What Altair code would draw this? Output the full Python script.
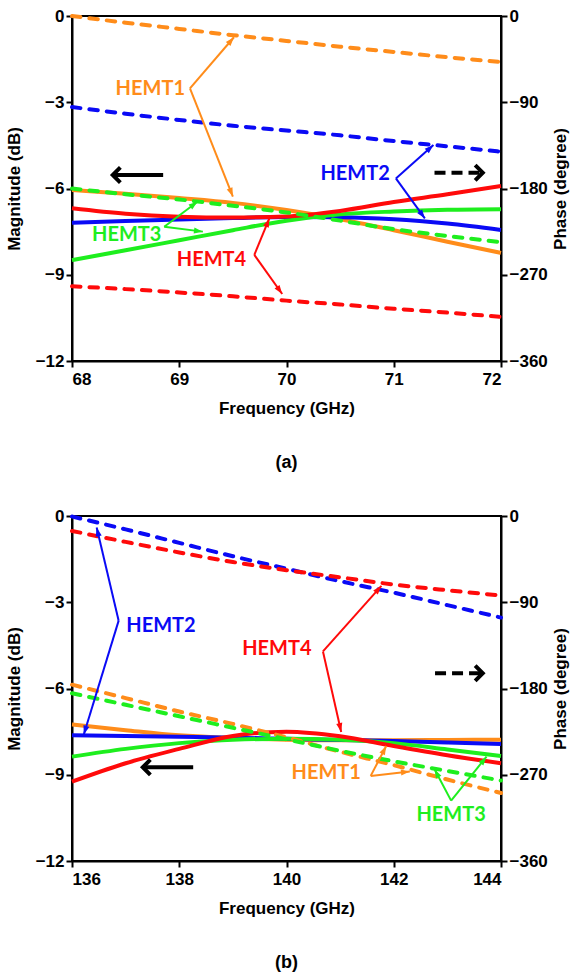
import math
import altair as alt
import pandas as pd

SERIES = ["HEMT1", "HEMT2", "HEMT3", "HEMT4"]
LINE_COLORS = ["#FF8C1A", "#0A0AF5", "#1EEE1E", "#FF0A0A"]
LABEL_COLORS = ["#F79646", "#1414E6", "#1EE61E", "#F51414"]

# ---------------- panel (a) ----------------
freq_a = [68, 68.5, 69, 69.5, 70, 70.5, 71, 71.5, 72]
mag_a = {
    "HEMT1": [-6.05, -6.18, -6.33, -6.5, -6.75, -7.07, -7.45, -7.85, -8.24],
    "HEMT2": [-7.19, -7.13, -7.08, -7.03, -6.99, -7.0, -7.07, -7.22, -7.44],
    "HEMT3": [-8.49, -8.15, -7.8, -7.45, -7.12, -6.9, -6.8, -6.74, -6.72],
    "HEMT4": [-6.69, -6.88, -6.98, -7.01, -6.97, -6.78, -6.47, -6.2, -5.91],
}
phase_a = {
    "HEMT1": [0, -7, -13.5, -20, -26, -32, -37.5, -43, -48],
    "HEMT2": [-95, -102, -108.5, -114.5, -119.5, -124.5, -130.5, -136, -141.6],
    "HEMT3": [-180, -186, -191.5, -198, -205, -213.5, -222.5, -229.5, -236],
    "HEMT4": [-282, -285, -288.5, -292.5, -297, -301, -305.5, -309.5, -314],
}
ticks_x_a = [68, 69, 70, 71, 72]
# annotations (frequency, magnitude-axis units): label, vertex, two tips
ann_a_label = ["HEMT1", "HEMT2", "HEMT3", "HEMT4"]
ann_a_text = [(68.73, -2.55), (70.64, -5.5), (68.51, -7.62), (69.3, -8.49)]
ann_a_vertex = [(69.10, -2.52), (71.02, -5.65), (68.86, -7.33), (69.70, -8.31)]
ann_a_tip1 = [(69.51, -0.74), (71.37, -4.49), (69.17, -6.46), (69.84, -7.04)]
ann_a_tip2 = [(69.50, -6.28), (71.29, -7.04), (69.22, -7.50), (69.96, -9.67)]
arrow_a_solid = [(68.85, -5.53), (68.38, -5.53)]
arrow_a_dashed = [(71.38, -5.45), (71.83, -5.45)]

# ---------------- panel (b) ----------------
freq_b = [136, 137, 138, 139, 140, 141, 142, 143, 144]
mag_b = {
    "HEMT1": [-7.25, -7.45, -7.63, -7.72, -7.78, -7.8, -7.8, -7.79, -7.78],
    "HEMT2": [-7.63, -7.65, -7.68, -7.71, -7.75, -7.79, -7.83, -7.88, -7.93],
    "HEMT3": [-8.37, -8.1, -7.9, -7.78, -7.75, -7.78, -7.9, -8.12, -8.35],
    "HEMT4": [-9.24, -8.6, -8.1, -7.65, -7.5, -7.66, -8.0, -8.32, -8.6],
}
phase_b = {
    "HEMT1": [-176, -190, -204, -217, -231, -246, -260, -275, -289],
    "HEMT2": [-0.5, -14, -28, -42, -55, -68, -80, -93, -106],
    "HEMT3": [-185, -197, -209, -221, -233, -245, -256, -266, -276],
    "HEMT4": [-15.6, -27, -38, -48, -56.5, -64, -71.5, -77.5, -83],
}
ticks_x_b = [136, 138, 140, 142, 144]
ann_b_label = ["HEMT2", "HEMT4", "HEMT1", "HEMT3"]
ann_b_text = [(137.66, -3.81), (139.82, -4.62), (140.74, -8.95), (143.07, -10.4)]
ann_b_vertex = [(136.87, -3.64), (140.68, -4.71), (141.57, -9.04), (143.07, -9.9)]
ann_b_tip1 = [(136.46, -0.40), (141.77, -2.43), (141.86, -8.0), (142.76, -8.81)]
ann_b_tip2 = [(136.22, -7.60), (141.02, -7.51), (142.30, -8.89), (143.73, -8.37)]
arrow_b_solid = [(138.26, -8.74), (137.32, -8.74)]
arrow_b_dashed = [(142.77, -5.47), (143.66, -5.47)]

mag_ticks = [0, -3, -6, -9, -12]
phase_ticks = [0, -90, -180, -270, -360]

W, H = 429, 345
FONT = "Liberation Sans"
HEAD = "M0,0L-0.5,1.45L0.5,1.45Z"
CHEVRON = "M-0.85,0.85L0,0L0.85,0.85"

color_scale = alt.Scale(domain=SERIES, range=LINE_COLORS)
label_scale = alt.Scale(domain=SERIES, range=LABEL_COLORS)
mag_scale = alt.Scale(domain=[-12, 0], nice=False, zero=False)


def axis_common(**kw):
    return alt.Axis(grid=False, tickSize=6, tickWidth=2, domainWidth=2,
                    domainColor="black", tickColor="black",
                    labelFont=FONT, labelFontSize=17, labelFontWeight="bold",
                    labelColor="black", titleFont=FONT, titleFontSize=17,
                    titleFontWeight="bold", titleColor="black", **kw)


def panel(freq, mag, phase, labels, texts, vertices, tips1, tips2,
          arr_solid, arr_dashed, xticks, caption):
    xdom = [xticks[0], xticks[-1]]
    px_x = W / (xdom[1] - xdom[0])
    px_y = H / 12.0
    X = alt.X("f:Q", scale=alt.Scale(domain=xdom, nice=False, zero=False),
              axis=axis_common(values=xticks, title="Frequency (GHz)",
                               labelPadding=4, titlePadding=13))

    mag_df = pd.DataFrame([{"f": f, "v": v, "s": s}
                           for s in SERIES for f, v in zip(freq, mag[s])])
    ph_df = pd.DataFrame([{"f": f, "v": v, "s": s}
                          for s in SERIES for f, v in zip(freq, phase[s])])

    mag_layer = alt.Chart(mag_df).mark_line(strokeWidth=4, interpolate="monotone").encode(
        x=X,
        y=alt.Y("v:Q", scale=mag_scale,
                axis=axis_common(values=mag_ticks, title="Magnitude (dB)",
                                 orient="left", labelPadding=2, titlePadding=12)),
        color=alt.Color("s:N", scale=color_scale, legend=None),
    )
    ph_layer = alt.Chart(ph_df).mark_line(strokeWidth=4, strokeDash=[8.5, 9],
                                          strokeCap="round", interpolate="monotone").encode(
        x=X,
        y=alt.Y("v:Q", scale=alt.Scale(domain=[-360, 0], nice=False, zero=False),
                axis=axis_common(values=phase_ticks, title="Phase (degree)",
                                 orient="right", labelPadding=2, titlePadding=5,
                                 titleAngle=270, titleBaseline="top")),
        color=alt.Color("s:N", scale=color_scale, legend=None),
    )

    seg_rows, head_rows, text_rows = [], [], []
    for lab, t, v, a, b in zip(labels, texts, vertices, tips1, tips2):
        text_rows.append({"f": t[0], "m": t[1], "s": lab})
        for k, tip in enumerate([a, b]):
            key = f"{lab}-{k}"
            seg_rows.append({"f": v[0], "m": v[1], "s": lab, "key": key, "o": 0})
            seg_rows.append({"f": tip[0], "m": tip[1], "s": lab, "key": key, "o": 1})
            dx = (tip[0] - v[0]) * px_x
            dy = (tip[1] - v[1]) * px_y
            ang = math.degrees(math.atan2(dx, dy)) % 360
            head_rows.append({"f": tip[0], "m": tip[1], "s": lab, "ang": ang})

    Yn = alt.Y("m:Q", scale=mag_scale, axis=None)
    segs = alt.Chart(pd.DataFrame(seg_rows)).mark_line(strokeWidth=2).encode(
        x=X, y=Yn, detail="key:N", order="o:Q",
        color=alt.Color("s:N", scale=label_scale, legend=None))
    heads = alt.Chart(pd.DataFrame(head_rows)).mark_point(
        shape=HEAD, filled=True, size=150, opacity=1, strokeWidth=0).encode(
        x=X, y=Yn, angle=alt.Angle("ang:Q", scale=None),
        color=alt.Color("s:N", scale=label_scale, legend=None))
    texts_l = alt.Chart(pd.DataFrame(text_rows)).mark_text(
        font="Lato", fontSize=20, fontWeight="bold").encode(
        x=X, y=Yn, text="s:N",
        color=alt.Color("s:N", scale=label_scale, legend=None))

    bl_rows = []
    for kind, pts in (("solid", arr_solid), ("dashed", arr_dashed)):
        for o, p in enumerate(pts):
            bl_rows.append({"f": p[0], "m": p[1], "kind": kind, "o": o})
    bl_df = pd.DataFrame(bl_rows)
    solid = alt.Chart(bl_df).transform_filter("datum.kind == 'solid'").mark_line(
        strokeWidth=4, color="black").encode(x=X, y=Yn, order="o:Q")
    dashed = alt.Chart(bl_df).transform_filter("datum.kind == 'dashed'").mark_line(
        strokeWidth=4, color="black", strokeDash=[11, 6]).encode(x=X, y=Yn, order="o:Q")
    chev_df = pd.DataFrame([
        {"f": arr_solid[1][0], "m": arr_solid[1][1], "ang": 270},
        {"f": arr_dashed[1][0], "m": arr_dashed[1][1], "ang": 90},
    ])
    chev = alt.Chart(chev_df).mark_point(
        shape=CHEVRON, filled=False, stroke="black", strokeWidth=4,
        size=320, opacity=1).encode(x=X, y=Yn, angle=alt.Angle("ang:Q", scale=None))

    return alt.layer(mag_layer, ph_layer, segs, heads, texts_l, solid, dashed, chev).resolve_scale(
        y="independent").properties(
        width=W, height=H,
        title=alt.TitleParams(caption, orient="bottom", font=FONT, fontSize=18,
                              fontWeight="bold", color="black", offset=38))


pa = panel(freq_a, mag_a, phase_a, ann_a_label, ann_a_text, ann_a_vertex,
           ann_a_tip1, ann_a_tip2, arrow_a_solid, arrow_a_dashed, ticks_x_a, "(a)")
pb = panel(freq_b, mag_b, phase_b, ann_b_label, ann_b_text, ann_b_vertex,
           ann_b_tip1, ann_b_tip2, arrow_b_solid, arrow_b_dashed, ticks_x_b, "(b)")

chart = alt.vconcat(pa, pb, spacing=33).properties(
    padding={"left": 4, "top": 6, "right": 2, "bottom": 4},
    background="white",
).configure_view(stroke="black", strokeWidth=2)

chart.save("out.html", embed_options={"renderer": "svg", "actions": False})
